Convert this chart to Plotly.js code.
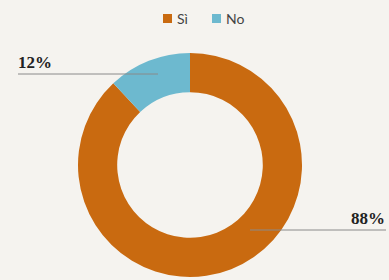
<!DOCTYPE html>
<html><head><meta charset="utf-8">
<script src="https://cdn.plot.ly/plotly-3.0.1.min.js"></script>
<style>html,body{margin:0;padding:0;background:#f5f3ef;}</style>
</head><body><div id="chart" style="width:389px;height:280px;"></div>
<script>
var categories = ["Sì", "No"];
var values = [88, 12];
var colors = ["#c96a10", "#6db9cf"];
var pctLabels = ["88%", "12%"];

var W = 389, H = 280;
function px(x){return x/W;} function py(y){return 1 - y/H;}

var data = [{
  type: "pie", labels: categories, values: values, sort: false,
  direction: "clockwise", rotation: 0, hole: 0.65,
  marker: {colors: colors, line: {width: 0}},
  textinfo: "none", hoverinfo: "none",
  domain: {x: [px(78), px(302)], y: [py(277), py(53)]}
}];

// legend keys (positions in pixels)
var legendKeyX = [163, 212];
var shapes = [
  {type: "line", xref: "paper", yref: "paper", x0: px(18), x1: px(158), y0: py(74), y1: py(74),
   line: {color: "#8a8a8a", width: 1}},
  {type: "line", xref: "paper", yref: "paper", x0: px(250), x1: px(386), y0: py(230), y1: py(230),
   line: {color: "#8a8a8a", width: 1}}
];
var annotations = [
  {text: "<b>" + pctLabels[1] + "</b>", x: px(16), y: py(63), xref: "paper", yref: "paper",
   xanchor: "left", yanchor: "middle", showarrow: false,
   font: {family: "Liberation Serif, serif", size: 17, color: "#222"}},
  {text: "<b>" + pctLabels[0] + "</b>", x: px(387), y: py(218), xref: "paper", yref: "paper",
   xanchor: "right", yanchor: "middle", showarrow: false,
   font: {family: "Liberation Serif, serif", size: 17, color: "#222"}}
];
categories.forEach(function(c, i){
  var x0 = legendKeyX[i];
  shapes.push({type: "rect", xref: "paper", yref: "paper", x0: px(x0), x1: px(x0 + 9),
    y0: py(23), y1: py(14), fillcolor: colors[i], line: {width: 0}});
  annotations.push({text: c, x: px(x0 + 12), y: py(18.5), xref: "paper", yref: "paper",
    xanchor: "left", yanchor: "middle", showarrow: false,
    font: {family: "Lato, sans-serif", size: 14, color: "#444"}});
});

var layout = {
  width: W, height: H, margin: {l:0, r:0, t:0, b:0},
  paper_bgcolor: "#f5f3ef", plot_bgcolor: "#f5f3ef",
  showlegend: false,
  annotations: annotations,
  shapes: shapes
};
Plotly.newPlot("chart", data, layout, {displayModeBar: false, staticPlot: true});
</script></body></html>
